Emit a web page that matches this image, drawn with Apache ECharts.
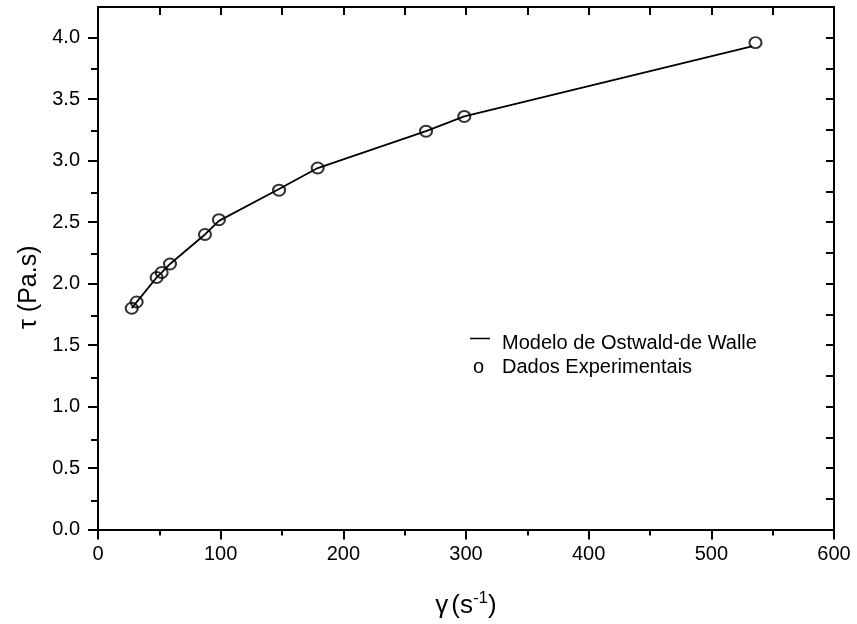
<!DOCTYPE html>
<html>
<head>
<meta charset="utf-8">
<script src="https://cdn.jsdelivr.net/npm/echarts@6/dist/echarts.min.js"></script>
<style>html,body{margin:0;padding:0;background:#fff;}#c{width:857px;height:624px;}</style>
</head>
<body>
<div id="c"></div>
<script>
// Experimental data (shear rate, shear stress)
const gammaExp = [27.5, 31.5, 47.8, 51.9, 58.7, 87.2, 98.6, 147.6, 179.1, 267.4, 298.6, 536];
const tauExp   = [1.80, 1.85, 2.05, 2.09, 2.16, 2.40, 2.52, 2.76, 2.94, 3.24, 3.36, 3.96];
// Model curve
const gammaModel = [27.5, 31.5, 47.8, 51.9, 58.7, 87.2, 98.6, 147.6, 179.1, 267.4, 298.6, 533];
const tauModel   = [1.80, 1.85, 2.05, 2.09, 2.16, 2.40, 2.51, 2.77, 2.94, 3.24, 3.36, 3.93];
// Tick values
const yMajorTicks = [0, 0.5, 1.0, 1.5, 2.0, 2.5, 3.0, 3.5, 4.0];
const yMinorTicks = [0.25, 0.75, 1.25, 1.75, 2.25, 2.75, 3.25, 3.75];
const yAllTicks = [0, 0.25, 0.5, 0.75, 1.0, 1.25, 1.5, 1.75, 2.0, 2.25, 2.5, 2.75, 3.0, 3.25, 3.5, 3.75, 4.0];
const xTickLabels = [0, 100, 200, 300, 400, 500, 600];
const modelName = 'Modelo de Ostwald-de Walle';
const dataName = 'Dados Experimentais';

const FONT = 'Liberation Sans, Arial, Helvetica, sans-serif';
const black = '#000';
const gridRect = {left: 98, right: 23, top: 7, bottom: 92};

const chart = echarts.init(document.getElementById('c'), null, {renderer: 'canvas'});
chart.setOption({
  backgroundColor: '#fff',
  animation: false,
  grid: [Object.assign({}, gridRect), Object.assign({}, gridRect)],
  legend: [
    {
      left: 470, top: 324, orient: 'vertical', padding: 0,
      itemWidth: 20, itemHeight: 1.5, icon: 'rect',
      data: [{name: modelName, itemStyle: {color: black}}],
      selectedMode: false,
      formatter: function (n) { return '{t|' + n + '}'; },
      textStyle: {
        fontFamily: FONT, fontSize: 20, color: black,
        rich: {
          t: {fontFamily: FONT, fontSize: 20, color: black, lineHeight: 22, padding: [9, 0, 0, 7]}
        }
      }
    },
    {
      left: 468, top: 356, orient: 'vertical', padding: 0,
      itemWidth: 0, itemHeight: 14, icon: 'none',
      data: [{name: dataName}],
      selectedMode: false,
      formatter: function (n) { return '{o|o}{t|' + n + '}'; },
      textStyle: {
        fontFamily: FONT, fontSize: 20, color: black, lineHeight: 22,
        rich: {
          o: {fontFamily: FONT, fontSize: 20, color: black, width: 29, lineHeight: 22},
          t: {fontFamily: FONT, fontSize: 20, color: black, lineHeight: 22}
        }
      }
    }
  ],
  xAxis: [
    {
      gridIndex: 0, type: 'value', position: 'bottom', min: 0, max: 600, interval: 100,
      axisLine: {show: true, onZero: false, lineStyle: {color: black, width: 2}},
      axisTick: {show: true, inside: false, length: 10, lineStyle: {color: black, width: 2}},
      minorTick: {show: true, splitNumber: 2, length: 6, lineStyle: {color: black, width: 2}},
      splitLine: {show: false},
      axisLabel: {show: true, margin: 15, fontFamily: FONT, fontSize: 20, color: black,
        customValues: xTickLabels},
      name: '{g|γ}{a|(s}{b|-1}{a|)}',
      nameLocation: 'middle', nameGap: 60,
      nameTextStyle: {
        rich: {
          g: {fontFamily: FONT, fontSize: 26, color: black, padding: [0, 3, 0, 0]},
          a: {fontFamily: FONT, fontSize: 26, color: black},
          b: {fontFamily: FONT, fontSize: 17, color: black, padding: [0, 0, 16, 0]}
        }
      }
    },
    {
      gridIndex: 0, type: 'value', position: 'top', min: 0, max: 600, interval: 50,
      axisLine: {show: true, onZero: false, lineStyle: {color: black, width: 2}},
      axisTick: {show: true, inside: true, length: 8, lineStyle: {color: black, width: 2}},
      splitLine: {show: false},
      axisLabel: {show: false}
    },
    {
      gridIndex: 1, type: 'value', min: 0, max: 600, show: false
    }
  ],
  yAxis: [
    {
      gridIndex: 0, type: 'value', position: 'left', min: 0, max: 4.25, interval: 0.25,
      axisLine: {show: true, onZero: false, lineStyle: {color: black, width: 2}},
      axisTick: {show: true, inside: false, length: 10, customValues: yMajorTicks,
        lineStyle: {color: black, width: 2}},
      splitLine: {show: false},
      axisLabel: {show: true, margin: 18, fontFamily: FONT, fontSize: 20, color: black,
        customValues: yMajorTicks,
        formatter: function (v) { return v.toFixed(1); }},
      name: 'τ (Pa.s)', nameLocation: 'middle', nameRotate: 90, nameGap: 55,
      nameTextStyle: {fontFamily: FONT, fontSize: 25, color: black, padding: [0, 38, 0, 0]}
    },
    {
      gridIndex: 0, type: 'value', position: 'right', min: 0, max: 4.25, interval: 0.25,
      axisLine: {show: true, onZero: false, lineStyle: {color: black, width: 2}},
      axisTick: {show: true, inside: true, length: 8, customValues: yAllTicks,
        lineStyle: {color: black, width: 2}},
      splitLine: {show: false},
      axisLabel: {show: false}
    },
    {
      gridIndex: 1, type: 'value', position: 'left', min: 0, max: 4.25, interval: 0.25,
      axisLine: {show: false},
      axisTick: {show: true, inside: false, length: 7, customValues: yMinorTicks,
        lineStyle: {color: black, width: 2}},
      splitLine: {show: false},
      axisLabel: {show: false}
    }
  ],
  series: [
    {
      name: modelName, type: 'line', xAxisIndex: 0, yAxisIndex: 0,
      data: gammaModel.map((g, i) => [g, tauModel[i]]),
      showSymbol: false, symbol: 'none', smooth: false,
      lineStyle: {color: black, width: 1.8},
      itemStyle: {color: black},
      z: 2
    },
    {
      name: dataName, type: 'scatter', xAxisIndex: 0, yAxisIndex: 0,
      data: gammaExp.map((g, i) => [g, tauExp[i]]),
      symbol: 'circle', symbolSize: [12, 11],
      itemStyle: {color: 'rgba(0,0,0,0)', borderColor: black, borderWidth: 2},
      z: 3
    }
  ]
});
</script>
</body>
</html>
